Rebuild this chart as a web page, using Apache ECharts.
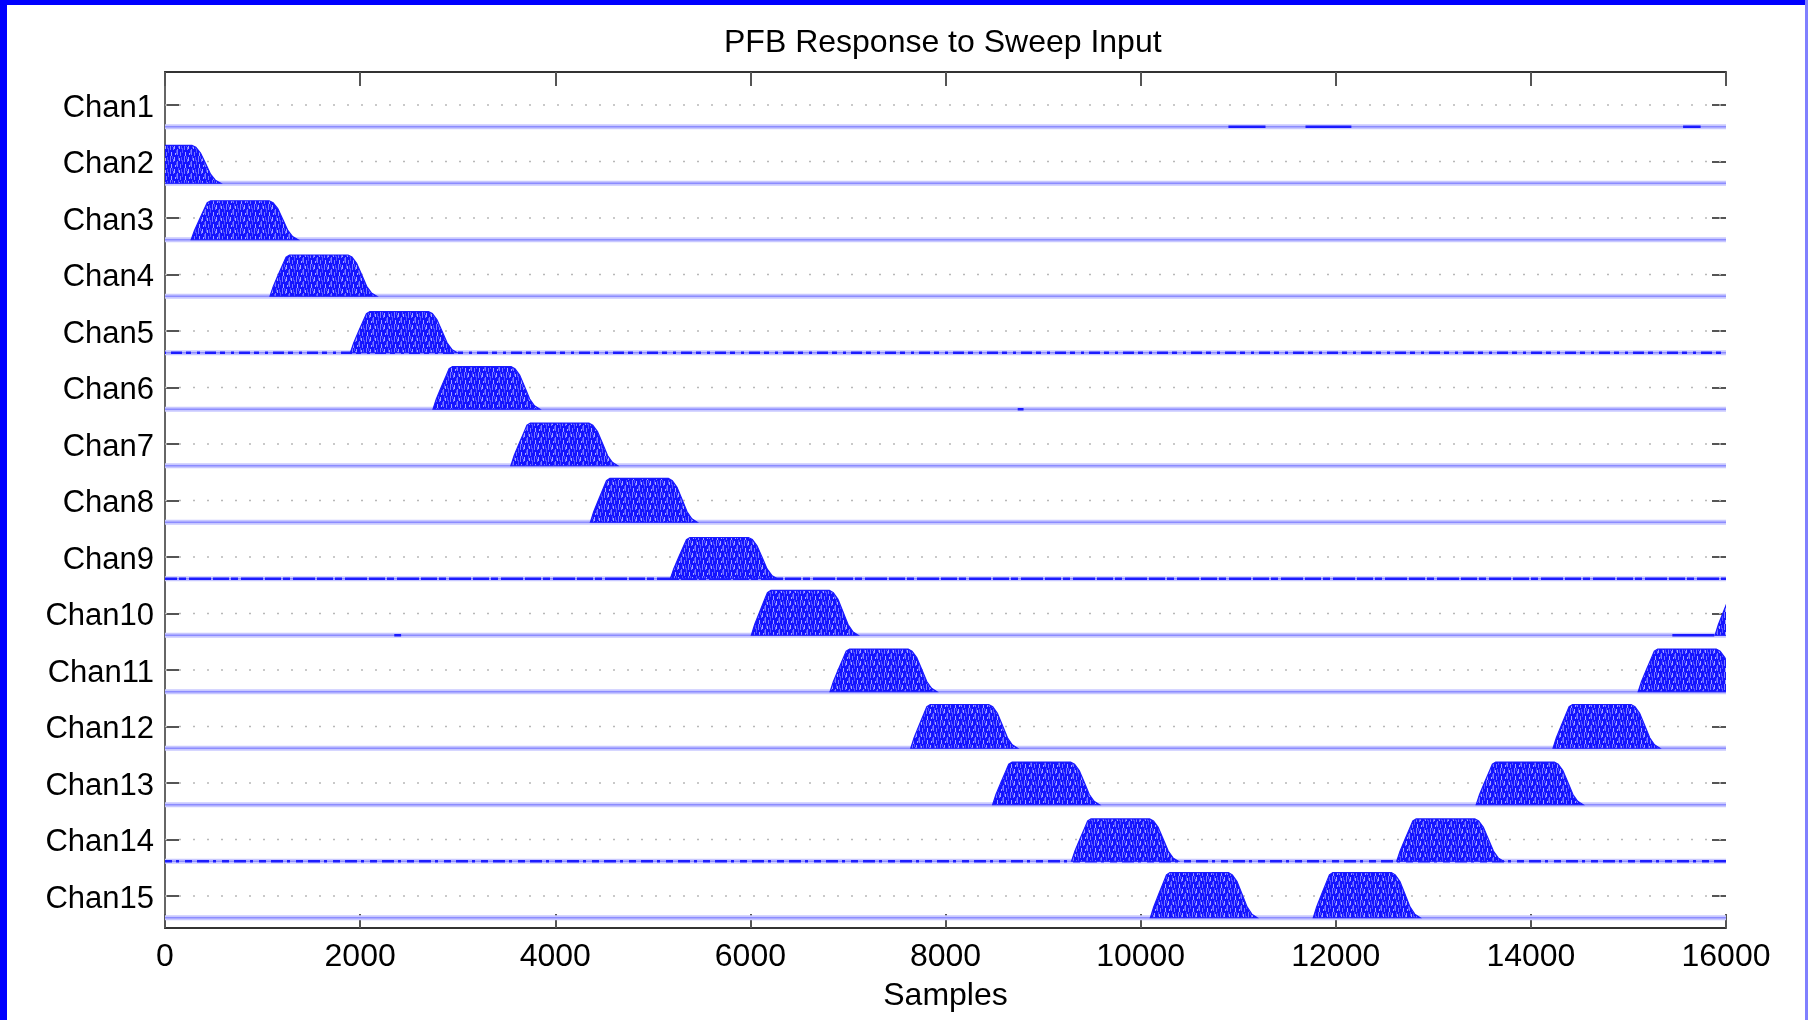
<!DOCTYPE html>
<html><head><meta charset="utf-8">
<script src="https://cdn.jsdelivr.net/npm/echarts@6/dist/echarts.min.js"></script>
<style>html,body{margin:0;padding:0;background:#fff}#c{width:1808px;height:1020px}</style>
</head><body><div id="c"></div>
<script>
// ---- data ----
const channels = ['Chan1','Chan2','Chan3','Chan4','Chan5','Chan6','Chan7','Chan8','Chan9','Chan10','Chan11','Chan12','Chan13','Chan14','Chan15'];
const xTicks = [0,2000,4000,6000,8000,10000,12000,14000,16000];
// sample where each channel's main passband hump starts (null = none)
const mainHumpStart = [null,-524,268,1076,1900,2747,3545,4360,5180,6010,6817,7644,8483,9292,10100];
// sample where the second (aliased) hump starts
const aliasHumpStart = [null,null,null,null,null,null,null,null,null,15888,15100,14227,13440,12625,11770];
// peak height of each channel's trace (in channel-strip units)
const humpAmplitude = [0,0.67,0.69,0.73,0.73,0.755,0.755,0.775,0.73,0.795,0.755,0.775,0.755,0.75,0.8];
// shape of a hump: [samples from start, fraction of peak]
const humpProfile = [[0,0],[34,0.24],[85,0.52],[137,0.8],[165,0.95],[200,1],[800,1],[840,0.95],[888,0.8],[940,0.52],[991,0.24],[1040,0.08],[1094,0]];
// short low-level bursts on otherwise quiet baselines
const noiseSegments = {Chan1:[[10900,11280],[11690,12160],[15560,15740]], Chan6:[[8740,8800]], Chan10:[[2350,2420],[15450,15880]]};
const noisyChannels = ['Chan5','Chan9','Chan14'];
const baselineOffset = 0.385;   // trace baseline sits below the channel label
// channel k is placed at y = -k (Chan1 on top); one unit = one channel strip
const yMin = -15.566, yMax = -0.416, xMin = 0, xMax = 16000;

// ---- fill texture (style only) ----
function makePattern(){
  const c = document.createElement('canvas'); c.width = 14; c.height = 12;
  const g = c.getContext('2d');
  g.fillStyle = '#1414ff'; g.fillRect(0,0,14,12);
  g.fillStyle = '#7878ff'; g.fillRect(2,0,1,6); g.fillRect(9,5,1,6); g.fillRect(5,3,1,3); g.fillRect(12,8,1,4);
  g.fillStyle = '#a4a4ff'; g.fillRect(6,1,1,4); g.fillRect(3,8,1,4); g.fillRect(11,2,1,3); g.fillRect(7,9,1,2);
  g.fillStyle = '#5252ff'; g.fillRect(10,0,1,4); g.fillRect(0,4,1,5); g.fillRect(8,6,1,4); g.fillRect(4,0,1,3); g.fillRect(13,1,1,4);
  return c;
}
const pattern = {image: makePattern(), repeat: 'repeat'};

const FONT = "'Liberation Sans', Arial, Helvetica, sans-serif";
const series = [];
const yOf = i => -(i + 1);
const noiseDash = {Chan5:[11,4,5,6,3,5], Chan9:[16,2,7,3,22,2], Chan14:[7,5,12,4,3,6]};

// dotted channel gridlines
channels.forEach((name, i) => {
  series.push({type:'line', silent:true, symbol:'none', z:1, animation:false,
    data:[[xMin, yOf(i)],[xMax, yOf(i)]],
    lineStyle:{color:'#b8b8b8', width:1.5, type:[2,12]}});
});
// baselines
channels.forEach((name, i) => {
  const b = yOf(i) - baselineOffset;
  series.push({type:'line', silent:true, symbol:'none', z:2, animation:false,
    data:[[xMin,b],[xMax,b]], lineStyle:{color:'#c8c8ff', width:5}});
  series.push({type:'line', silent:true, symbol:'none', z:2, animation:false,
    data:[[xMin,b],[xMax,b]], lineStyle:{color:'#8c8cff', width:1.6}});
  if (noisyChannels.includes(name)) {
    series.push({type:'line', silent:true, symbol:'none', z:3, animation:false,
      data:[[xMin,b],[xMax,b]], lineStyle:{color:'#1c1cff', width:2.6, type:noiseDash[name], dashOffset: i*7}});
  }
  (noiseSegments[name] || []).forEach(seg => {
    series.push({type:'line', silent:true, symbol:'none', z:3, animation:false,
      data:[[seg[0],b],[seg[1],b]], lineStyle:{color:'#1a1aff', width:2.6}});
  });
});

// humps
const humpData = [];
mainHumpStart.forEach((s, i) => { if (s !== null) humpData.push([i, s]); });
aliasHumpStart.forEach((s, i) => { if (s !== null) humpData.push([i, s]); });

series.push({
  type:'custom', z:5, clip:true, animation:false, silent:true,
  data: humpData,
  encode:{x:1, y:0},
  renderItem: function(params, api){
    const ci = api.value(0), start = api.value(1);
    const base = yOf(ci) - baselineOffset;
    const amp = humpAmplitude[ci];
    const pts = humpProfile.map(p => api.coord([start + p[0], base + p[1]*amp]));
    const cs = params.coordSys;
    return {type:'polygon', shape:{points:pts},
      clipPath:{type:'rect', shape:{x:cs.x, y:cs.y, width:cs.width, height:cs.height}},
      style:{fill:pattern, stroke:'#1a1aff', lineWidth:1.2}};
  }
});

const chart = echarts.init(document.getElementById('c'), null, {renderer:'canvas'});
const tickStyle = {color:'#555', width:2};
// plot box: top 72, bottom 928 -> 856 px for (yMax - yMin) units
const pxPerUnit = 856 / (yMax - yMin);
const labelGridTop = 72 + (yMax - (-1) - 0.5) * pxPerUnit;
const labelGridHeight = channels.length * pxPerUnit;

chart.setOption({
  animation:false,
  backgroundColor:'#ffffff',
  title:{text:'PFB Response to Sweep Input', left:719, top:22,
    textStyle:{fontFamily:FONT, fontSize:32, fontWeight:'normal', color:'#000'}},
  graphic:[
    {type:'rect', left:0, top:0, shape:{width:7, height:1020}, style:{fill:'#0000ff'}, z:100},
    {type:'rect', left:0, top:0, shape:{width:1808, height:5}, style:{fill:'#0000ff'}, z:100},
    {type:'rect', left:1805, top:0, shape:{width:3, height:1020}, style:{fill:'#8080ff'}, z:100}
  ],
  grid:[
    {left:165, right:82, top:72, bottom:92, containLabel:false},
    {left:165, right:82, top:labelGridTop, height:labelGridHeight, containLabel:false}
  ],
  xAxis:[
    {type:'value', gridIndex:0, min:xMin, max:xMax, interval:2000, position:'bottom',
      axisLine:{show:true, lineStyle:{color:'#333', width:2}},
      axisTick:{show:true, inside:true, length:14, lineStyle:tickStyle},
      axisLabel:{show:true, margin:13, fontFamily:FONT, fontSize:32, color:'#000',
        formatter: v => xTicks.includes(v) ? String(v) : ''},
      splitLine:{show:false},
      name:'Samples', nameLocation:'middle', nameGap:52,
      nameTextStyle:{fontFamily:FONT, fontSize:32, color:'#000'}},
    {type:'value', gridIndex:0, min:xMin, max:xMax, interval:2000, position:'top',
      axisLine:{show:true, lineStyle:{color:'#333', width:2}},
      axisTick:{show:true, inside:true, length:14, lineStyle:tickStyle},
      axisLabel:{show:false}, splitLine:{show:false}},
    {type:'value', gridIndex:1, min:xMin, max:xMax, show:false}
  ],
  yAxis:[
    {type:'value', gridIndex:0, min:yMin, max:yMax, position:'left',
      axisLine:{show:true, lineStyle:{color:'#333', width:2}},
      axisTick:{show:false}, axisLabel:{show:false}, splitLine:{show:false}},
    {type:'value', gridIndex:0, min:yMin, max:yMax, position:'right',
      axisLine:{show:true, lineStyle:{color:'#666', width:2}},
      axisTick:{show:false}, axisLabel:{show:false}, splitLine:{show:false}},
    {type:'category', gridIndex:1, data:channels, inverse:true, position:'left', boundaryGap:true,
      axisLine:{show:false},
      axisTick:{show:true, inside:true, alignWithLabel:true, length:14, lineStyle:tickStyle},
      axisLabel:{show:true, margin:11, color:'#000',
        formatter: v => '{t|' + v + '}',
        rich:{t:{fontFamily:FONT, fontSize:31, color:'#000', padding:[6,0,0,0]}}},
      splitLine:{show:false}},
    {type:'category', gridIndex:1, data:channels, inverse:true, position:'right', boundaryGap:true,
      axisLine:{show:false},
      axisTick:{show:true, inside:true, alignWithLabel:true, length:14, lineStyle:tickStyle},
      axisLabel:{show:false}, splitLine:{show:false}}
  ],
  series: series
});
</script>
</body></html>
